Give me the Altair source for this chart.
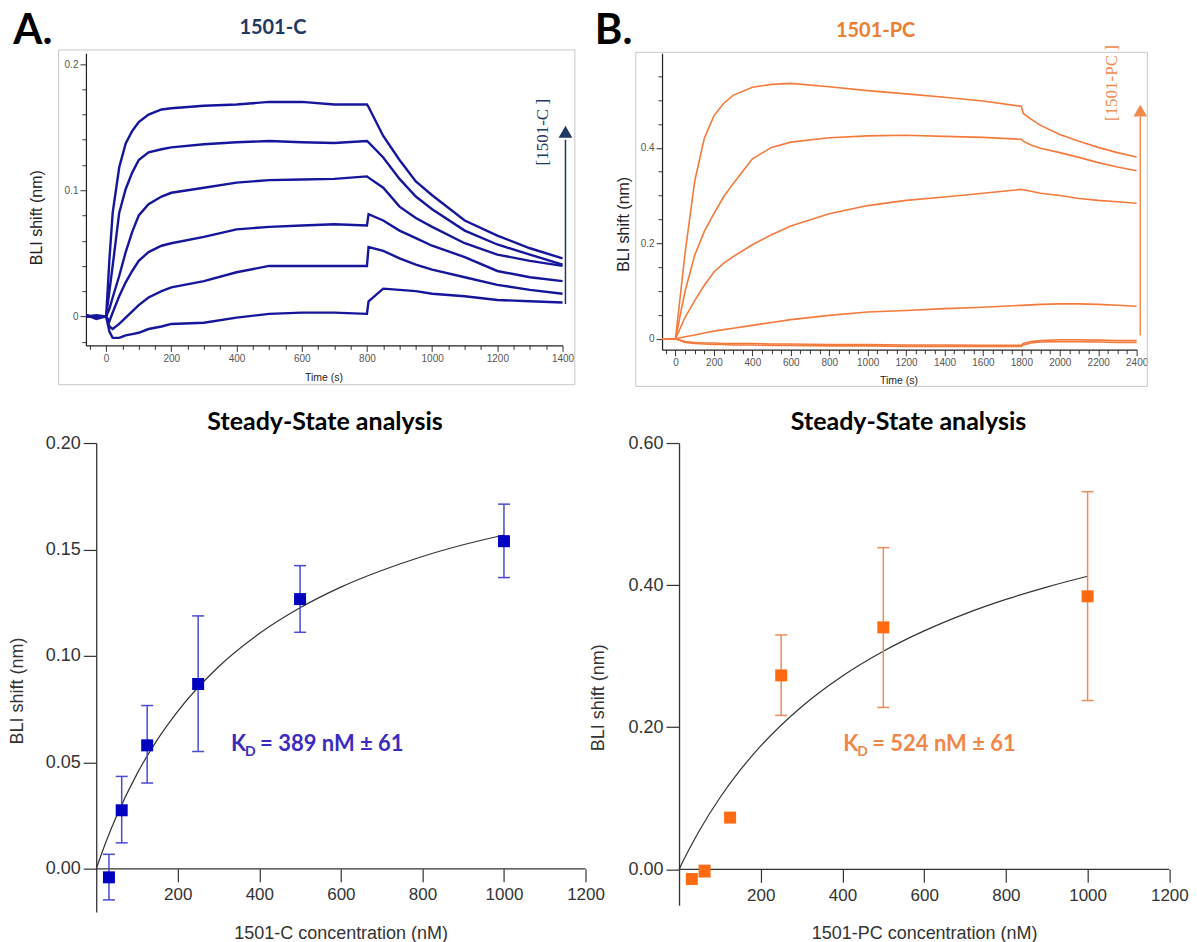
import altair as alt
import pandas as pd

# ---------------- top-left sensorgrams (1501-C) ----------------
TL_TIME = [-60, -30, 0, 10, 20, 40, 60, 80, 100, 130, 170, 200, 300, 400, 500, 600, 700, 800, 805, 850, 900, 950, 1000, 1100, 1200, 1300, 1400]
TL_1000 = [0.001, -0.002, 0.000, 0.045, 0.082, 0.118, 0.137, 0.147, 0.154, 0.160, 0.164, 0.165, 0.167, 0.168, 0.170, 0.170, 0.168, 0.168, 0.166, 0.143, 0.124, 0.107, 0.096, 0.076, 0.064, 0.054, 0.046]
TL_500 = [0.001, -0.001, 0.000, 0.020, 0.040, 0.082, 0.101, 0.114, 0.124, 0.130, 0.1325, 0.134, 0.1365, 0.138, 0.139, 0.138, 0.1375, 0.139, 0.138, 0.126, 0.109, 0.095, 0.085, 0.068, 0.057, 0.049, 0.041]
TL_250 = [0.000, 0.001, 0.000, 0.006, 0.015, 0.032, 0.051, 0.067, 0.080, 0.089, 0.095, 0.098, 0.102, 0.106, 0.108, 0.1085, 0.109, 0.111, 0.110, 0.102, 0.087, 0.078, 0.071, 0.058, 0.049, 0.044, 0.040]
TL_125 = [0.000, 0.000, 0.000, -0.004, 0.003, 0.016, 0.027, 0.036, 0.044, 0.051, 0.056, 0.058, 0.063, 0.069, 0.071, 0.072, 0.073, 0.072, 0.081, 0.076, 0.068, 0.062, 0.056, 0.047, 0.036, 0.031, 0.028]
TL_62 = [0.000, 0.000, 0.000, -0.008, -0.010, -0.006, -0.001, 0.004, 0.009, 0.015, 0.020, 0.023, 0.028, 0.035, 0.040, 0.040, 0.040, 0.040, 0.055, 0.052, 0.046, 0.041, 0.037, 0.031, 0.025, 0.021, 0.018]
TL_31 = [0.000, 0.000, 0.000, -0.012, -0.017, -0.017, -0.015, -0.014, -0.013, -0.010, -0.008, -0.006, -0.005, -0.001, 0.002, 0.003, 0.003, 0.002, 0.012, 0.022, 0.021, 0.020, 0.018, 0.016, 0.013, 0.012, 0.011]
TL_XTICKS = list(range(-50, 1401, 50))
TL_YTICKS = [-0.02, 0.0, 0.02, 0.04, 0.06, 0.08, 0.1, 0.12, 0.14, 0.16, 0.18, 0.2]

# ---------------- top-right sensorgrams (1501-PC) ----------------
TR_TIME = [-70, 0, 50, 100, 150, 200, 250, 300, 400, 500, 600, 800, 1000, 1200, 1400, 1600, 1800, 1810, 1850, 1900, 2000, 2100, 2200, 2300, 2400]
TR_1000 = [0.0, 0.0, 0.18, 0.33, 0.42, 0.467, 0.493, 0.51, 0.527, 0.533, 0.535, 0.528, 0.520, 0.513, 0.506, 0.498, 0.487, 0.472, 0.460, 0.447, 0.428, 0.414, 0.401, 0.390, 0.381]
TR_500 = [0.0, 0.0, 0.10, 0.175, 0.225, 0.262, 0.297, 0.325, 0.377, 0.401, 0.412, 0.421, 0.425, 0.4265, 0.424, 0.422, 0.418, 0.414, 0.406, 0.399, 0.390, 0.380, 0.369, 0.360, 0.352]
TR_250 = [0.0, 0.0, 0.045, 0.08, 0.112, 0.14, 0.158, 0.172, 0.197, 0.218, 0.236, 0.262, 0.279, 0.290, 0.297, 0.305, 0.313, 0.312, 0.309, 0.305, 0.300, 0.294, 0.290, 0.287, 0.284]
TR_125 = [0.0, 0.0, 0.004, 0.008, 0.012, 0.016, 0.019, 0.022, 0.028, 0.034, 0.040, 0.049, 0.056, 0.059, 0.063, 0.066, 0.070, 0.070, 0.071, 0.072, 0.073, 0.073, 0.072, 0.070, 0.068]
TR_62 = [0.0, 0.0, -0.006, -0.008, -0.009, -0.009, -0.010, -0.010, -0.010, -0.011, -0.011, -0.012, -0.012, -0.013, -0.013, -0.014, -0.014, -0.010, -0.006, -0.004, -0.002, -0.002, -0.003, -0.004, -0.004]
TR_31 = [0.0, 0.0, -0.008, -0.010, -0.011, -0.012, -0.012, -0.013, -0.013, -0.014, -0.014, -0.015, -0.015, -0.016, -0.016, -0.016, -0.016, -0.013, -0.009, -0.007, -0.006, -0.006, -0.007, -0.008, -0.008]
TR_XTICKS = list(range(-50, 2401, 50))
TR_YTICKS = [0.0, 0.05, 0.1, 0.15, 0.2, 0.25, 0.3, 0.35, 0.4, 0.45, 0.5, 0.55]

# ---------------- steady-state analysis ----------------
CONC = [31.25, 62.5, 125, 250, 500, 1000]
C_RESP = [-0.0040, 0.0275, 0.0580, 0.0868, 0.1267, 0.1539]
C_LO = [-0.0146, 0.0122, 0.0403, 0.0551, 0.1111, 0.1368]
C_HI = [0.0068, 0.0434, 0.0767, 0.1188, 0.1424, 0.1713]
PC_RESP = [-0.0136, -0.0024, 0.0729, 0.2730, 0.3406, 0.3843]
PC_LO = [None, -0.0105, None, 0.2167, 0.2279, 0.2376]
PC_HI = [None, 0.0058, None, 0.3299, 0.4528, 0.5315]
FIT_CONC = [0, 25, 50, 100, 150, 200, 300, 400, 500, 600, 700, 800, 900, 1000]
FIT_C = [0, 0.0132, 0.0248, 0.0446, 0.0607, 0.0740, 0.0949, 0.1105, 0.1226, 0.1323, 0.1401, 0.1467, 0.1522, 0.1568]
FIT_PC = [0, 0.0286, 0.0548, 0.1008, 0.1399, 0.1737, 0.2289, 0.2722, 0.3070, 0.3356, 0.3596, 0.3799, 0.3973, 0.4125]
BOT_XTICKS = [200, 400, 600, 800, 1000, 1200]
C_YTICKS = [0.0, 0.05, 0.1, 0.15, 0.2]
PC_YTICKS = [0.0, 0.2, 0.4, 0.6]

# ---------------- colours ----------------
NAVY = "#1f3864"
BLUE_LINE = "#16169c"
BLUE_PT = "#0000c0"
BLUE_ERR = "#4a4ad2"
BLUE_TXT = "#3a2cbf"
ORANGE = "#ED7D31"
ORANGE_LINE = "#f47a3c"
ORANGE_PT = "#ff6a13"
ORANGE_ERR = "#f08a5a"
ORANGE_TXT = "#f0874a"

one = pd.DataFrame({"k": [0]})


def label(text, x, y, size, color, font="Lato", weight="bold", align="left",
          baseline="alphabetic", angle=0):
    return alt.Chart(pd.DataFrame({"s": [text]})).mark_text(
        align=align, baseline=baseline, fontSize=size, font=font,
        fontWeight=weight, color=color, angle=angle
    ).encode(x=alt.value(x), y=alt.value(y), text="s:N")


def frame(x1, y1, x2, y2):
    return alt.Chart(one).mark_rect(fillOpacity=0, stroke="#c8c8c8", strokeWidth=1).encode(
        x=alt.value(x1), x2=alt.value(x2), y=alt.value(y1), y2=alt.value(y2))


def long_df(times, series):
    rows = []
    for name, vals in series:
        for t, v in zip(times, vals):
            rows.append({"t": t, "v": v, "c": name})
    return pd.DataFrame(rows)


top_common = dict(labelFont="Liberation Sans", labelFontSize=10, labelColor="#555",
                  tickColor="#333", tickWidth=1, domainColor="#222", domainWidth=1.2,
                  grid=False, titleFont="Liberation Sans", titleFontWeight="normal",
                  titleColor="#222", labelOverlap=False, labelFlush=False,
                  titleAlign="center", titleBaseline="middle")

X_MAJOR = "datum.value % 200 === 0"


def top_panel(times, series, xdom, ydom, xticks, yticks, ymajor, w, h, color, sw,
              xtitle_pos, ytitle_pos, arrow, arrow_txt, arrow_color, title_txt,
              title_color, title_pos, letter, letter_pos, frame_box, anchor=False):
    sx = alt.Scale(domain=xdom, nice=False, zero=False)
    sy = alt.Scale(domain=ydom, nice=False, zero=False)
    xaxis = alt.Axis(values=xticks, format="d",
                     labelExpr=f"{X_MAJOR} ? datum.label : ''",
                     tickSize={"condition": {"test": X_MAJOR, "value": 6}, "value": 4},
                     labelPadding=2, title="Time (s)", titleFontSize=10.5,
                     titleX=xtitle_pos[0], titleY=xtitle_pos[1], **top_common)
    yaxis = alt.Axis(values=yticks,
                     labelExpr=f"{ymajor} ? format(datum.value, '~g') : ''",
                     tickSize={"condition": {"test": ymajor, "value": 6}, "value": 4},
                     labelPadding=2, title="BLI shift (nm)", titleFontSize=16,
                     titleAngle=270, titleX=ytitle_pos[0], titleY=ytitle_pos[1],
                     **top_common)
    X = lambda f: alt.X(f, scale=sx, axis=xaxis)
    Y = lambda f: alt.Y(f, scale=sy, axis=yaxis)
    df = long_df(times, series)
    lines = alt.Chart(df).mark_line(color=color, strokeWidth=sw).encode(
        x=X("t:Q"), y=Y("v:Q"), detail="c:N")
    ax, y0, y1, yhead = arrow
    adf = pd.DataFrame({"t": [ax], "v": [y0], "v2": [y1], "vh": [yhead]})
    rule = alt.Chart(adf).mark_rule(color=arrow_color, strokeWidth=1.5).encode(
        x=X("t:Q"), y=Y("v:Q"), y2="v2:Q")
    head = alt.Chart(adf).mark_point(shape="triangle-up", filled=True, size=190,
                                     color=arrow_color, opacity=1).encode(
        x=X("t:Q"), y=Y("vh:Q"))
    tx, ty, tsize = arrow_txt
    tdf = pd.DataFrame({"t": [tx], "v": [ty], "s": ["[" + title_txt + " ]"]})
    atext = alt.Chart(tdf).mark_text(font="Liberation Serif", fontSize=tsize,
                                     color=arrow_color, angle=270, align="center",
                                     baseline="middle").encode(
        x=X("t:Q"), y=Y("v:Q"), text="s:N")
    layers = [lines, frame(*frame_box), rule, head, atext,
              label(title_txt, title_pos[0], title_pos[1], 20, title_color, align="center"),
              label(letter, letter_pos[0], letter_pos[1], 42, "#000")]
    if anchor:
        layers.append(alt.Chart(one).mark_rule(color="white", strokeWidth=1).encode(
            x=alt.value(-77.2), x2=alt.value(-77.2), y=alt.value(-44.2), y2=alt.value(-42)))
    return alt.layer(*layers).properties(width=w, height=h)


bot_common = dict(labelFont="Liberation Sans", labelColor="#333", tickColor="#333",
                  tickWidth=1.2, tickSize=13, domainColor="#333", domainWidth=1.3,
                  grid=False, titleFont="Liberation Sans", titleFontWeight="normal",
                  titleColor="#333", titleFontSize=18, labelOverlap=False,
                  labelFlush=False, titleAlign="center", titleBaseline="middle")


def bottom_panel(resp, lo, hi, fit, xdom, ydom, yticks, w, h, x_off, y_off,
                 xtitle, xtitle_pos, ytitle_pos, pt_color, err_color, txt_color,
                 kd_text, kd_pos, title_center):
    sx = alt.Scale(domain=xdom, nice=False, zero=False)
    sy = alt.Scale(domain=ydom, nice=False, zero=False)
    xaxis = alt.Axis(values=BOT_XTICKS, format="d", offset=x_off, domain=False,
                     labelFontSize=17, labelPadding=5, title=xtitle,
                     titleX=xtitle_pos[0], titleY=xtitle_pos[1], **bot_common)
    yaxis = alt.Axis(values=yticks, format=".2f", offset=y_off, labelFontSize=18,
                     labelPadding=3, title="BLI shift (nm)", titleAngle=270,
                     titleX=ytitle_pos[0], titleY=ytitle_pos[1], **bot_common)
    X = lambda f: alt.X(f, scale=sx, axis=xaxis)
    Y = lambda f: alt.Y(f, scale=sy, axis=yaxis)
    fdf = pd.DataFrame({"c": FIT_CONC, "r": fit})
    fitline = alt.Chart(fdf).mark_line(color="#333", strokeWidth=1.2,
                                       interpolate="monotone").encode(
        x=X("c:Q"), y=Y("r:Q"))
    base = alt.Chart(pd.DataFrame({"c": [0], "c2": [1200], "r": [0]})).mark_rule(
        color="#333", strokeWidth=1.3).encode(x=X("c:Q"), x2="c2:Q", y=Y("r:Q"))
    pdf = pd.DataFrame({"c": CONC, "r": resp, "lo": lo, "hi": hi})
    edf = pdf.dropna()
    err = alt.Chart(edf).mark_rule(color=err_color, strokeWidth=1.5).encode(
        x=X("c:Q"), y=Y("lo:Q"), y2="hi:Q")
    cap_lo = alt.Chart(edf).mark_tick(orient="horizontal", size=12, thickness=1.5,
                                      color=err_color, opacity=1).encode(
        x=X("c:Q"), y=Y("lo:Q"))
    cap_hi = alt.Chart(edf).mark_tick(orient="horizontal", size=12, thickness=1.5,
                                      color=err_color, opacity=1).encode(
        x=X("c:Q"), y=Y("hi:Q"))
    pts = alt.Chart(pdf).mark_square(size=144, color=pt_color, opacity=1).encode(
        x=X("c:Q"), y=Y("r:Q"))
    kx, ky = kd_pos
    layers = [fitline, base, err, cap_lo, cap_hi, pts,
              label("K", kx, ky, 22, txt_color),
              label("D", kx + 14, ky + 5, 14, txt_color),
              label(kd_text, kx + 29, ky, 22, txt_color),
              label("Steady-State analysis", title_center, -13, 25, "#000", align="center")]
    return alt.layer(*layers).properties(width=w, height=h)


TL = top_panel(TL_TIME, [("1000", TL_1000), ("500", TL_500), ("250", TL_250),
                         ("125", TL_125), ("62.5", TL_62), ("31.25", TL_31)],
               [-62, 1400], [-0.023, 0.2085], TL_XTICKS, TL_YTICKS,
               "abs(datum.value*10 - round(datum.value*10)) < 0.001",
               477, 292.3, BLUE_LINE, 2.4, (237.7, 32.5), (-49.3, 164),
               (1409, 0.0098, 0.140, 0.1463), (1341, 0.146, 17), NAVY,
               "1501-C", NAVY, (187.1, -19.7), "A.", (-72.7, -9.7),
               (-27.4, -3.4, 489.3, 331.6), anchor=True)

TR = top_panel(TR_TIME, [("1000", TR_1000), ("500", TR_500), ("250", TR_250),
                         ("125", TR_125), ("62.5", TR_62), ("31.25", TR_31)],
               [-70, 2400], [-0.023, 0.598], TR_XTICKS, TR_YTICKS,
               "abs(datum.value*5 - round(datum.value*5)) < 0.001",
               475, 296.6, ORANGE_LINE, 1.6, (236.7, 30.7), (-39, 170.6),
               (2419, 0.007, 0.465, 0.478), (2270, 0.5357, 17), "#f08c50",
               "1501-PC", ORANGE, (213.7, -16.2), "B.", (-67.3, -9.7),
               (-26.3, -1, 485.7, 333.3))

BL = bottom_panel(C_RESP, C_LO, C_HI, FIT_C, [-25.2, 1200], [-0.0203, 0.2], C_YTICKS,
                  500, 469.4, -43.2, -10.3, "1501-C concentration (nM)",
                  (254.9, 64.4), (-79, 247.7), BLUE_PT, BLUE_ERR, BLUE_TXT,
                  "= 389 nM ± 61", (145.3, 308.5), 239.3)

BR = bottom_panel(PC_RESP, PC_LO, PC_HI, FIT_PC, [-41.6, 1200], [-0.0506, 0.6], PC_YTICKS,
                  507.7, 462.7, -36.0, -17.0, "1501-PC concentration (nM)",
                  (262.3, 64.3), (-81, 254.4), ORANGE_PT, ORANGE_ERR, ORANGE_TXT,
                  "= 524 nM ± 61", (181.4, 308.5), 246.7)

chart = alt.concat(TL, TR, BL, BR, columns=2, bounds="flush",
                   spacing={"row": 93, "column": 76.6}).properties(
    padding=0, background="white").configure_view(stroke=None)

chart.save("out.html", embed_options={"renderer": "svg", "actions": False})
